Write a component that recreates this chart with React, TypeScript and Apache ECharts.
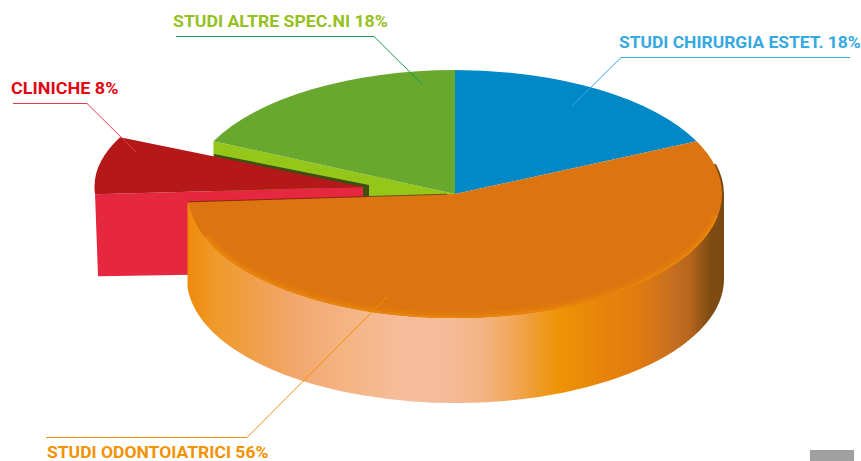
import React, { useEffect, useRef } from "react";
import * as echarts from "echarts";

const categories = ["STUDI CHIRURGIA ESTET.", "STUDI ODONTOIATRICI", "CLINICHE", "STUDI ALTRE SPEC.NI"];
const shares = [18, 56, 8, 18];

const topColors = ["#0088c7", "#dc7510", "#b51818", "#69a82f"];
const labelColors = ["#36a9e1", "#f39200", "#e30613", "#95c11f"];
const leaderColors = ["#36a9e1", "#f39200", "#e8394a", "#1a9c4a"];

// layout of the annotations (not data)
const labelPos = [[619, 42.5], [47, 452.5], [11, 88.5], [173, 21.5]];
const labelScale = [1.025, 1.03, 1.06, 1.04];
const leaderPts = [
  [[850, 57.5], [621, 57.5], [572, 106]],
  [[46, 437.5], [247, 437.5], [387, 297]],
  [[13, 103.5], [87, 103.5], [136, 152]],
  [[176, 36.5], [374, 36.5], [423, 85]],
];

const CX = 455, CY = 194, RX = 267, RY = 124, DEPTH = 85;
const EXPLODE_DX = -92, EXPLODE_DY = -7;

const pt = (deg: number, cx = CX, cy = CY, rx = RX, ry = RY) => {
  const a = (deg * Math.PI) / 180;
  return [cx + rx * Math.sin(a), cy - ry * Math.cos(a)];
};
const f = (p: number[]) => `${p[0].toFixed(2)} ${p[1].toFixed(2)}`;

const wedge = (a: number, b: number, cx = CX, cy = CY, rx = RX, ry = RY) =>
  `M${cx} ${cy} L${f(pt(a, cx, cy, rx, ry))} A${rx} ${ry} 0 ${b - a > 180 ? 1 : 0} 1 ${f(pt(b, cx, cy, rx, ry))} Z`;

const sideStops: [number, string][] = [
  [187, "#ee8a0a"], [215, "#f09a2a"], [260, "#f0a050"], [300, "#f2a870"], [350, "#f4b585"],
  [400, "#f6bd9a"], [450, "#f5bb98"], [480, "#f3b585"], [510, "#f2a85e"], [540, "#ee9a25"],
  [560, "#ef9305"], [600, "#e8850a"], [640, "#e07a10"], [670, "#c87020"], [690, "#b5651d"],
  [710, "#7f4c12"], [724, "#7a4a12"],
];

function renderItem(params: any) {
  const i = params.dataIndex;
  const total = shares.reduce((s, v) => s + v, 0);
  const before = shares.slice(0, i).reduce((s, v) => s + v, 0);
  const a0 = (before / total) * 360;
  const a1 = ((before + shares[i]) / total) * 360;
  const children: any[] = [];
  const name = categories[i];

  if (i === 1) {
    const wcx = 455.5, wrx = 268.5;
    const s = pt(76, wcx, CY, wrx, RY), r = pt(90, wcx, CY, wrx, RY), e = pt(a1, wcx, CY, wrx, RY);
    const d = `M${f(s)} A${wrx} ${RY} 0 0 1 ${f(r)} L${r[0]} ${r[1] + DEPTH} A${wrx} ${RY} 0 0 1 ${e[0]} ${e[1] + DEPTH} L${e[0]} ${e[1] + 1} L${CX} ${CY + 12} Z`;
    children.push({
      type: "path", z2: 30, shape: { pathData: d },
      style: {
        fill: {
          type: "linear", x: 0, y: 0, x2: 1, y2: 0,
          colorStops: sideStops.map(([x, c]) => ({ offset: (x - 187) / 537, color: c })),
        },
      },
    });
    children.push({
      type: "path", z2: 31, shape: { pathData: wedge(a0, a1) },
      style: { fill: topColors[i] },
    });
    // lighter rim of the front edge
    const rimPath = (inset: number) =>
      `M${f(pt(100, CX, CY, RX - inset, RY - inset))} A${RX - inset} ${RY - inset} 0 0 1 ${f(pt(250, CX, CY, RX - inset, RY - inset))}`;
    children.push({
      type: "path", z2: 32, shape: { pathData: rimPath(3) },
      style: { fill: "none", stroke: "#e07a0e", lineWidth: 6 },
    });
    children.push({
      type: "path", z2: 33, shape: { pathData: rimPath(1.2) },
      style: { fill: "none", stroke: "#e6840c", lineWidth: 2.4 },
    });
    const endP = pt(a1);
    const tx = CX + EXPLODE_DX + 6;
    const ty = endP[1] + ((tx - endP[0]) / (CX - endP[0])) * (CY - endP[1]);
    const hx = CX - 8;
    const hy = endP[1] + ((hx - endP[0]) / (CX - endP[0])) * (CY - endP[1]);
    children.push({
      type: "line", z2: 34,
      shape: { x1: endP[0], y1: endP[1], x2: tx, y2: ty },
      style: { stroke: "#8a2a10", lineWidth: 1 },
    });
    children.push({
      type: "line", z2: 34,
      shape: { x1: tx, y1: ty, x2: hx, y2: hy },
      style: { stroke: "#6b5010", lineWidth: 1 },
    });
  } else if (i === 2) {
    const cx = CX + EXPLODE_DX, cy = CY + EXPLODE_DY;
    const rx = RX + 1.5, ry = RY - 7;
    const p0 = pt(a0, cx, cy, rx, ry), p1 = pt(a1, cx, cy, rx, ry);
    // dark band cast on the neighbouring slice
    const t = (214 - p1[0]) / (cx - p1[0]);
    const bx = p1[0] + t * (cx - p1[0]), by = p1[1] + t * (cy - p1[1]);
    children.push({
      type: "polygon", z2: 18,
      shape: { points: [[bx, by - 2.5], [cx + 6, cy - 2], [cx + 6, cy + 12], [cx, cy + 12], [bx, by + 6]] },
      style: { fill: "#3f4f12" },
    });
    // radial side wall
    children.push({
      type: "polygon", z2: 20,
      shape: { points: [[cx, cy], p0, [p0[0] + 3, p0[1] + DEPTH - 3], [cx, cy + DEPTH]] },
      style: { fill: "#e5283f" },
    });
    children.push({
      type: "path", z2: 21, shape: { pathData: wedge(a0, a1, cx, cy, rx, ry) },
      style: { fill: topColors[i] },
    });
  } else {
    if (i === 3) {
      const p = pt(a0);
      children.push({
        type: "polygon", z2: 9,
        shape: { points: [[CX, CY], p, [p[0], p[1] + DEPTH], [CX, CY + DEPTH]] },
        style: { fill: "#95c61a" },
      });
    }
    children.push({
      type: "path", z2: 10, shape: { pathData: wedge(a0, a1) },
      style: { fill: topColors[i] },
    });
  }

  children.push({
    type: "polyline", z2: 50,
    shape: { points: leaderPts[i] },
    style: { fill: "none", stroke: leaderColors[i], lineWidth: 1 },
  });
  children.push({
    type: "text", z2: 51,
    x: labelPos[i][0], y: labelPos[i][1], scaleX: labelScale[i],
    style: {
      text: `${name} ${shares[i]}%`,
      x: 0, y: 0,
      fill: labelColors[i],
      fontFamily: "Roboto",
      fontWeight: 700,
      fontSize: 17,
      align: "left",
      verticalAlign: "middle",
    },
  });
  return { type: "group", children };
}

export default function App() {
  const ref = useRef<HTMLDivElement>(null);
  useEffect(() => {
    document.body.style.margin = "0";
    const chart = echarts.init(ref.current!, null, { renderer: "svg" });
    chart.setOption({
      animation: false,
      backgroundColor: "#ffffff",
      series: [
        {
          type: "custom",
          coordinateSystem: "none",
          data: shares.map((v, i) => ({ name: categories[i], value: v })),
          renderItem,
          silent: true,
        },
      ],
      graphic: [
        { type: "rect", shape: { x: 810, y: 450, width: 44, height: 11 }, style: { fill: "#a0a0a0" } },
      ],
    });
    return () => chart.dispose();
  }, []);
  return <div ref={ref} style={{ width: 861, height: 461 }} />;
}
